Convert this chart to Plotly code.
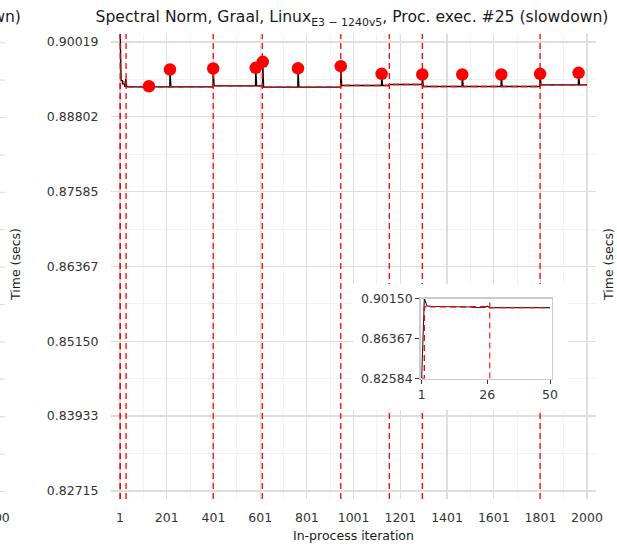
import numpy as np
import plotly.graph_objects as go

# ---------------- data ----------------
n_iters = 2000
# first 26 in-process iterations (seconds)
early_values = ([0.82584, 0.90150, 0.89450]
                + [0.89390] * 8
                + [0.89340] * 9
                + [0.89300] * 5
                + [0.89420])
# steady levels of the timing series after the warm-up
level_starts = [27, 400, 610, 946, 1154, 1295, 1799]
level_ends = [399, 609, 945, 1153, 1294, 1798, 2000]
level_values = [0.89290, 0.89307, 0.89284, 0.89312, 0.89328, 0.89296, 0.89323]
# outliers (red dots)
outlier_iters = [125, 215, 400, 582, 612, 763, 946, 1121, 1295, 1466, 1633, 1799, 1964]
outlier_values = [0.89300, 0.89572, 0.89588, 0.89600, 0.89697, 0.89591, 0.89626,
                  0.89502, 0.89491, 0.89491, 0.89491, 0.89502, 0.89518]
# changepoints and segment means
changepoints = [2, 27, 400, 610, 946, 1154, 1295, 1799]
segment_bounds = [1, 2, 27, 400, 610, 946, 1154, 1295, 1799, 2000]
segment_means = [0.82584, 0.89370, 0.89290, 0.89307, 0.89284, 0.89312, 0.89328,
                 0.89296, 0.89323]

x_tickvals = [1, 201, 401, 601, 801, 1001, 1201, 1401, 1601, 1801, 2000]
y_tickvals = [0.82715, 0.83933, 0.85150, 0.86367, 0.87585, 0.88802, 0.90019]
y_ticktext = ["0.82715", "0.83933", "0.85150", "0.86367", "0.87585", "0.88802", "0.90019"]
y_range = [0.82584, 0.90150]

inset_n = 50
inset_x_tickvals = [1, 26, 50]
inset_y_tickvals = [0.82584, 0.86367, 0.90150]
inset_y_ticktext = ["0.82584", "0.86367", "0.90150"]

# ---------------- build series ----------------
iters = np.arange(1, n_iters + 1)
times = np.empty(n_iters)
times[:len(early_values)] = early_values
for s, e, v in zip(level_starts, level_ends, level_values):
    times[s - 1:e] = v
for it, v in zip(outlier_iters, outlier_values):
    times[it - 1] = v

step_x = list(segment_bounds)
step_y = list(segment_means) + [segment_means[-1]]

cp_x, cp_y = [], []
for c in changepoints:
    cp_x += [c, c, None]
    cp_y += [y_range[0], y_range[1], None]

# inset pieces
in_step_x = [b for b in segment_bounds if b <= inset_n] + [inset_n]
in_step_y = [m for b, m in zip(segment_bounds, step_y) if b <= inset_n]
in_step_y = in_step_y + [in_step_y[-1]]
in_cp_x, in_cp_y = [], []
for c in changepoints:
    if 2 < c <= inset_n:
        in_cp_x += [c, c, None]
        in_cp_y += [y_range[0], y_range[1], None]

# ---------------- layout helpers ----------------
W, H = 617, 544
L, R, T, B = 111, 21, 34, 45
pw, ph = W - L - R, H - T - B


def px_x(p):
    return (p - L) / pw


def px_y(p):
    return (H - B - p) / ph


FONT = "DejaVu Sans"
RED = "#FF0000"
DASH = "6px,4px"

fig = go.Figure()

# main panel (the main view starts its line at iteration 2)
fig.add_trace(go.Scatter(x=iters[1:], y=times[1:], mode="lines",
                         line=dict(color="black", width=1.3),
                         hoverinfo="skip", showlegend=False))
fig.add_trace(go.Scatter(x=step_x, y=step_y, mode="lines", line_shape="hv",
                         line=dict(color=RED, width=1.3, dash=DASH),
                         hoverinfo="skip", showlegend=False))
fig.add_trace(go.Scatter(x=cp_x, y=cp_y, mode="lines",
                         line=dict(color=RED, width=1.3, dash=DASH),
                         hoverinfo="skip", showlegend=False))
fig.add_trace(go.Scatter(x=outlier_iters, y=outlier_values, mode="markers",
                         marker=dict(color=RED, size=12.5, line=dict(width=0)),
                         showlegend=False))

# white backing box for the inset
fig.add_trace(go.Scatter(x=[0, 1, 1, 0, 0], y=[0, 0, 1, 1, 0], fill="toself",
                         fillcolor="white", mode="lines", line=dict(width=0, color="white"),
                         xaxis="x2", yaxis="y2", hoverinfo="skip", showlegend=False))

# inset panel
fig.add_trace(go.Scatter(x=iters[:inset_n], y=times[:inset_n], mode="lines",
                         line=dict(color="#222222", width=1.1),
                         xaxis="x3", yaxis="y3", hoverinfo="skip", showlegend=False))
fig.add_trace(go.Scatter(x=in_step_x, y=in_step_y, mode="lines", line_shape="hv",
                         line=dict(color=RED, width=1.3, dash=DASH),
                         xaxis="x3", yaxis="y3", hoverinfo="skip", showlegend=False))
fig.add_trace(go.Scatter(x=in_cp_x, y=in_cp_y, mode="lines",
                         line=dict(color=RED, width=1.1, dash=DASH),
                         xaxis="x3", yaxis="y3", hoverinfo="skip", showlegend=False))

minor_x = [(a + b) / 2 for a, b in zip(x_tickvals[:-1], x_tickvals[1:])]
minor_y = [(a + b) / 2 for a, b in zip(y_tickvals[:-1], y_tickvals[1:])]

tickfont = dict(family=FONT, size=12.5, color="#333333")

fig.update_layout(
    width=W, height=H, autosize=False,
    margin=dict(l=L, r=R, t=T, b=B),
    paper_bgcolor="white", plot_bgcolor="white",
    font=dict(family=FONT, color="#1a1a1a"),
    title=dict(text="Spectral Norm, Graal, Linux<sub>E3 − 1240v5</sub>, Proc. exec. #25 (slowdown)",
               x=352 / W, xanchor="center", y=1 - 17 / H, yanchor="middle",
               font=dict(family=FONT, size=15.6, color="#1a1a1a")),
    xaxis=dict(domain=[0, 1], range=[-37.5, 2038.5], tickmode="array",
               tickvals=x_tickvals, ticktext=[str(v) for v in x_tickvals],
               showgrid=True, gridcolor="#dedede", gridwidth=1.2,
               minor=dict(tickvals=minor_x, showgrid=True, gridcolor="#efefef", gridwidth=0.8),
               zeroline=False, showline=False, ticks="outside", ticklen=7,
               tickcolor="rgba(0,0,0,0)", tickfont=tickfont),
    yaxis=dict(domain=[0, 1], range=y_range, tickmode="array",
               tickvals=y_tickvals, ticktext=y_ticktext,
               showgrid=True, gridcolor="#dedede", gridwidth=1.2,
               minor=dict(tickvals=minor_y, showgrid=True, gridcolor="#efefef", gridwidth=0.8),
               zeroline=False, showline=False, ticks="outside", ticklen=9,
               tickcolor="rgba(0,0,0,0)", tickfont=tickfont),
    xaxis2=dict(domain=[px_x(353), px_x(568)], range=[0, 1], visible=False,
                anchor="y2", fixedrange=True),
    yaxis2=dict(domain=[px_y(410), px_y(284)], range=[0, 1], visible=False,
                anchor="x2", fixedrange=True),
    xaxis3=dict(domain=[px_x(420.7), px_x(551.7)], range=[0.62, 50.65], anchor="y3",
                tickmode="array", tickvals=inset_x_tickvals,
                ticktext=[str(v) for v in inset_x_tickvals],
                showgrid=False, zeroline=False, showline=True, linecolor="#cccccc",
                linewidth=1.5, mirror=True, ticks="outside", ticklen=4,
                tickcolor="#333333", tickwidth=1, tickfont=tickfont),
    yaxis3=dict(domain=[px_y(378.5), px_y(298.5)], range=y_range, anchor="x3",
                tickmode="array", tickvals=inset_y_tickvals, ticktext=inset_y_ticktext,
                showgrid=False, zeroline=False, showline=True, linecolor="#cccccc",
                linewidth=1.5, mirror=True, ticks="outside", ticklen=4,
                tickcolor="#333333", tickwidth=1, tickfont=tickfont),
)

annots = [
    dict(text="Time (secs)", x=px_x(15), y=px_y(265), textangle=-90,
         font=dict(family=FONT, size=12.5, color="#1a1a1a")),
    dict(text="In-process iteration", x=px_x(353), y=px_y(535),
         font=dict(family=FONT, size=12.5, color="#1a1a1a")),
    dict(text="Time (secs)", x=px_x(608), y=px_y(265), textangle=-90,
         font=dict(family=FONT, size=12.5, color="#1a1a1a")),
    dict(text="#25 (slowdown)", x=px_x(23), y=px_y(17), xanchor="right",
         font=dict(family=FONT, size=15.6, color="#1a1a1a")),
    dict(text="2000", x=px_x(12), y=px_y(517), xanchor="right",
         font=dict(family=FONT, size=12.5, color="#333333")),
]
for a in annots:
    a.setdefault("xanchor", "center")
    fig.add_annotation(xref="paper", yref="paper", showarrow=False, yanchor="middle", **a)

# fragments of the neighbouring panel's grid at the left edge
for k in range(13):
    yy = 42.7 + k * 37.4
    fig.add_shape(type="line", xref="paper", yref="paper",
                  x0=px_x(0), x1=px_x(5), y0=px_y(yy), y1=px_y(yy),
                  line=dict(color="#dedede", width=1.2))

fig.write_html("out.html",
               config={"displayModeBar": False, "staticPlot": True},
               post_script="document.body.style.margin='0px';"
                           "document.body.style.overflow='hidden';")
